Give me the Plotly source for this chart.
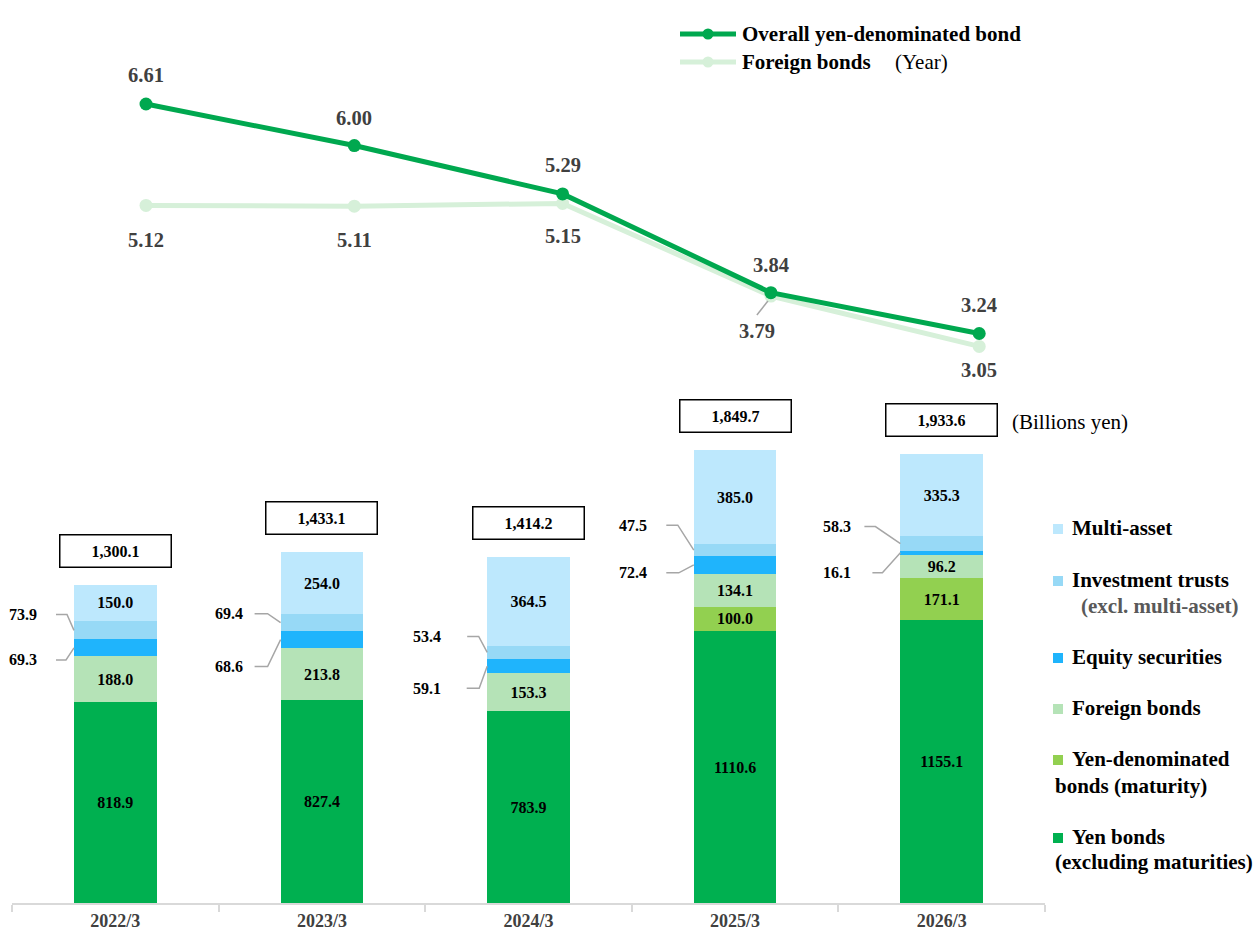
import plotly.graph_objects as go

# ---- data ----
periods = ["2022/3", "2023/3", "2024/3", "2025/3", "2026/3"]

yen_bonds_ex_maturity = [818.9, 827.4, 783.9, 1110.6, 1155.1]
yen_bonds_maturity = [None, None, None, 100.0, 171.1]
foreign_bonds = [188.0, 213.8, 153.3, 134.1, 96.2]
equity_securities = [69.3, 68.6, 59.1, 72.4, 16.1]
investment_trusts = [73.9, 69.4, 53.4, 47.5, 58.3]
multi_asset = [150.0, 254.0, 364.5, 385.0, 335.3]
totals = [1300.1, 1433.1, 1414.2, 1849.7, 1933.6]

overall_yen_years = [6.61, 6.00, 5.29, 3.84, 3.24]
foreign_bond_years = [5.12, 5.11, 5.15, 3.79, 3.05]

# ---- styling ----
SERIF = "Liberation Serif, Times New Roman, serif"
C_YEN = "#00b050"
C_MAT = "#92d050"
C_FOR = "#b5e3b7"
C_EQ = "#1fb4fc"
C_INV = "#97d9f6"
C_MULTI = "#bde8fd"
C_LINE = "#00a84f"
C_LINE_LIGHT = "#d6f0d9"
C_LEADER = "#a6a6a6"
C_LABEL = "#404040"
NUM_SIZE = 16

W, H = 1255, 940
PL, PR, PT, PB = 12, 1045, 0, 903   # plot area in pixels


def paper_x(px):
    return (px - PL) / (PR - PL)


def paper_y(py):
    return (PB - py) / (PB - PT)


fig = go.Figure()

# ---- stacked bars ----
bar_series = [
    ("Yen bonds (excluding maturities)", yen_bonds_ex_maturity, C_YEN, True),
    ("Yen-denominated bonds (maturity)", yen_bonds_maturity, C_MAT, True),
    ("Foreign bonds", foreign_bonds, C_FOR, True),
    ("Equity securities", equity_securities, C_EQ, False),
    ("Investment trusts (excl. multi-asset)", investment_trusts, C_INV, False),
    ("Multi-asset", multi_asset, C_MULTI, True),
]
BAR_W = 0.4
for name, vals, color, inside in bar_series:
    fig.add_bar(
        x=periods, y=vals, name=name, width=BAR_W,
        marker=dict(color=color, line=dict(width=0)),
        text=[f"{v:.1f}" if (inside and v is not None) else "" for v in vals],
        textposition="inside", insidetextanchor="middle", textangle=0,
        constraintext="none",
        textfont=dict(family=SERIF, size=NUM_SIZE, color="black", weight="bold"),
        showlegend=False, hoverinfo="x+y+name",
    )

# ---- duration lines ----
idx = list(range(len(periods)))
fig.add_scatter(
    x=idx, y=foreign_bond_years, xaxis="x2", yaxis="y2", name="Foreign bonds",
    mode="lines+markers", line=dict(color=C_LINE_LIGHT, width=5),
    marker=dict(color=C_LINE_LIGHT, size=13), showlegend=False,
)
fig.add_scatter(
    x=idx, y=overall_yen_years, xaxis="x2", yaxis="y2",
    name="Overall yen-denominated bond",
    mode="lines+markers", line=dict(color=C_LINE, width=5),
    marker=dict(color=C_LINE, size=13), showlegend=False,
)

annotations = []
shapes = []

# value labels on the lines (pixel offsets: right / up)
dark_label_shift = [(0, 29), (0, 28), (0, 29), (0, 28), (0, 29)]
light_label_shift = [(0, -35), (0, -34), (0, -33), (-14, -35), (0, -24)]
for i in idx:
    annotations.append(dict(
        x=i, y=overall_yen_years[i], xref="x2", yref="y2",
        text=f"{overall_yen_years[i]:.2f}", showarrow=False,
        xshift=dark_label_shift[i][0], yshift=dark_label_shift[i][1],
        font=dict(family=SERIF, size=20.5, color=C_LABEL, weight="bold"),
    ))
    annotations.append(dict(
        x=i, y=foreign_bond_years[i], xref="x2", yref="y2",
        text=f"{foreign_bond_years[i]:.2f}", showarrow=False,
        xshift=light_label_shift[i][0], yshift=light_label_shift[i][1],
        font=dict(family=SERIF, size=20.5, color=C_LABEL, weight="bold"),
    ))
# leader for the label sitting off its point
shapes.append(dict(
    type="path", xref="x2", yref="y2", xsizemode="pixel", ysizemode="pixel",
    xanchor=3, yanchor=foreign_bond_years[3], path="M -3,-5 L -14,-19",
    line=dict(color=C_LEADER, width=1.5),
))

# ---- totals above bars ----
tops = []
for k in idx:
    s = 0.0
    for _, vals, _, _ in bar_series:
        if vals[k] is not None:
            s += vals[k]
    tops.append(s)
for k in idx:
    annotations.append(dict(
        x=periods[k], y=tops[k], xref="x", yref="y", yshift=34,
        text=f"{totals[k]:,.1f}", showarrow=False,
        width=110, height=31, borderpad=0,
        bordercolor="black", borderwidth=1.5, bgcolor="white",
        font=dict(family=SERIF, size=NUM_SIZE, color="black", weight="bold"),
    ))

# ---- call-outs for the thin segments ----
bar_half_px = BAR_W / 2 * (PR - PL) / len(periods)
callout_label_dx = [-51, -52, -60, -61, -63]          # from bar left edge
callout_line_upper = [(-18, -7), (-26, -13), (-20, -8.5), (-27.5, -16), (-36, -25)]
callout_line_lower = [(-18, -8), (-26, -13), (-20.5, -8), (-27.5, -15), (-28, -18)]
callout_dy_upper = [16, 9, 16, 25, 17]               # pixels up from segment middle
callout_dy_lower = [-12, -27, -22, -8, -20]

for k in idx:
    base = yen_bonds_ex_maturity[k] + (yen_bonds_maturity[k] or 0) + foreign_bonds[k]
    eq_mid = base + equity_securities[k] / 2
    inv_mid = base + equity_securities[k] + investment_trusts[k] / 2
    for mid, val, dy, (lx0, lx1) in (
        (inv_mid, investment_trusts[k], callout_dy_upper[k], callout_line_upper[k]),
        (eq_mid, equity_securities[k], callout_dy_lower[k], callout_line_lower[k]),
    ):
        annotations.append(dict(
            x=periods[k], y=mid, xref="x", yref="y",
            xshift=-bar_half_px + callout_label_dx[k], yshift=dy,
            text=f"{val:.1f}", showarrow=False,
            font=dict(family=SERIF, size=NUM_SIZE, color="black", weight="bold"),
        ))
        shapes.append(dict(
            type="path", xref="x", yref="y", xsizemode="pixel", ysizemode="pixel",
            xanchor=periods[k], yanchor=mid,
            path=(f"M {-bar_half_px + lx0:.1f},{dy} L {-bar_half_px + lx1:.1f},{dy} "
                  f"L {-bar_half_px:.1f},0"),
            line=dict(color=C_LEADER, width=1.5),
        ))

# ---- unit note ----
annotations.append(dict(
    x=paper_x(1010), y=paper_y(422), xref="paper", yref="paper",
    xanchor="left", yanchor="middle", text="(Billions yen)", showarrow=False,
    font=dict(family=SERIF, size=21, color="black"),
))

# ---- line key (top) ----
for color, py, label in ((C_LINE, 34, "Overall yen-denominated bond"),
                         (C_LINE_LIGHT, 62, "Foreign bonds")):
    shapes.append(dict(type="line", xref="paper", yref="paper",
                       x0=paper_x(680), x1=paper_x(736), y0=paper_y(py), y1=paper_y(py),
                       line=dict(color=color, width=5)))
    shapes.append(dict(type="circle", xref="paper", yref="paper",
                       x0=paper_x(702.5), x1=paper_x(713.5),
                       y0=paper_y(py + 5.5), y1=paper_y(py - 5.5),
                       fillcolor=color, line=dict(color=color, width=0)))
    annotations.append(dict(
        x=paper_x(740), y=paper_y(py), xref="paper", yref="paper",
        xanchor="left", yanchor="middle", text=label, showarrow=False,
        font=dict(family=SERIF, size=21, color="black", weight="bold"),
    ))
annotations.append(dict(
    x=paper_x(893), y=paper_y(62), xref="paper", yref="paper",
    xanchor="left", yanchor="middle", text="(Year)", showarrow=False,
    font=dict(family=SERIF, size=21, color="black"),
))

# ---- bar key (right) ----
key_rows = [
    (C_MULTI, [("Multi-asset", 1070, 528, "black")]),
    (C_INV, [("Investment trusts", 1070, 580, "black"),
             ("(excl. multi-asset)", 1079, 606, "#595959")]),
    (C_EQ, [("Equity securities", 1070, 657, "black")]),
    (C_FOR, [("Foreign bonds", 1070, 708, "black")]),
    (C_MAT, [("Yen-denominated", 1070, 759, "black"),
             ("bonds (maturity)", 1053, 786, "black")]),
    (C_YEN, [("Yen bonds", 1070, 837, "black"),
             ("(excluding maturities)", 1053, 862, "black")]),
]
for color, lines in key_rows:
    first_y = lines[0][2]
    shapes.append(dict(type="rect", xref="paper", yref="paper",
                       x0=paper_x(1053), x1=paper_x(1063),
                       y0=paper_y(first_y + 6), y1=paper_y(first_y - 4),
                       fillcolor=color, line=dict(width=0)))
    for text, px, py, tcolor in lines:
        annotations.append(dict(
            x=paper_x(px), y=paper_y(py), xref="paper", yref="paper",
            xanchor="left", yanchor="middle", text=text, showarrow=False,
            font=dict(family=SERIF, size=21, color=tcolor, weight="bold"),
        ))

# ---- axes ----
bar_px_per_unit = 0.2449
line_px_per_year = 68.1
line_first_py = 104
line_first_px, line_step_px = 146, 208.3

y_top = (PB - PT) / bar_px_per_unit
y2_hi = overall_yen_years[0] + (line_first_py - PT) / line_px_per_year
y2_lo = overall_yen_years[0] - (PB - line_first_py) / line_px_per_year
x2_lo = (PL - line_first_px) / line_step_px
x2_hi = (PR - line_first_px) / line_step_px

fig.update_layout(
    width=W, height=H,
    margin=dict(l=PL, r=W - PR, t=PT, b=H - PB),
    paper_bgcolor="white", plot_bgcolor="white",
    barmode="stack", bargap=0.6,
    showlegend=False,
    xaxis=dict(
        type="category", categoryorder="array", categoryarray=periods,
        range=[-0.5, len(periods) - 0.5],
        showline=True, linecolor="#d9d9d9", linewidth=2,
        ticks="outside", tickson="boundaries", ticklen=7, tickcolor="#d9d9d9",
        tickwidth=1.5, showgrid=False, zeroline=False,
        tickfont=dict(family=SERIF, size=18, color=C_LABEL, weight="bold"),
        fixedrange=True,
    ),
    yaxis=dict(range=[0, y_top], visible=False, showgrid=False, zeroline=False,
               fixedrange=True),
    xaxis2=dict(overlaying="x", range=[x2_lo, x2_hi], visible=False,
                showgrid=False, zeroline=False, fixedrange=True),
    yaxis2=dict(overlaying="y", range=[y2_lo, y2_hi], visible=False,
                showgrid=False, zeroline=False, fixedrange=True),
    annotations=annotations,
    shapes=shapes,
)

fig.write_html("out.html")
